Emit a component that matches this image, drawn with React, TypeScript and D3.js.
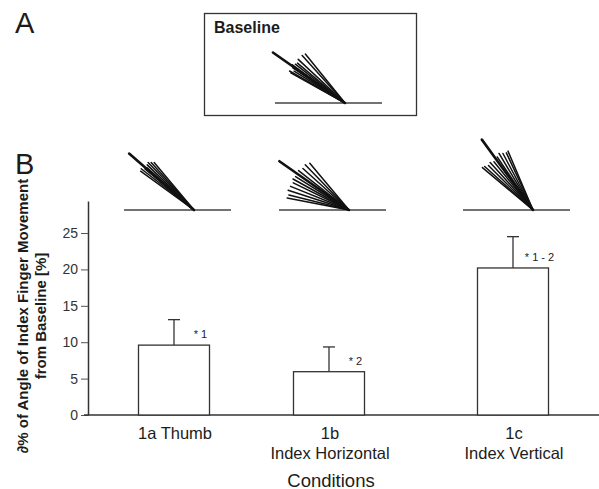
import React, { useEffect, useRef } from "react";
import * as d3 from "d3";

// Bar chart: angle change of index finger vs baseline, with finger sketches

const conditions = ["1a", "1b", "1c"];
const conditionLabels = [["1a Thumb"], ["1b", "Index Horizontal"], ["1c", "Index Vertical"]];
const means = [9.6, 5.95, 20.2];
const errors = [3.5, 3.4, 4.3];
const significance = ["* 1", "* 2", "* 1 - 2"];
const yTicks = [0, 5, 10, 15, 20, 25];

// finger sketches: angle above horizontal (deg) and length of each trace, first = thick one
const baselineAngles = [35, 29, 30, 32, 34, 36, 38, 40, 43, 48, 51];
const baselineLengths = [88, 62, 64, 60, 63, 65, 63, 62, 64, 64, 63];
const fanAngles = [
  [41, 36, 38, 40, 42, 44, 46, 48, 50],
  [35, 11, 14, 18, 22, 26, 29, 32, 38, 42, 46, 50],
  [54, 40, 42, 45, 48, 51, 56, 59, 62, 65, 67],
];
const fanLengths = [
  [86, 66, 67, 64, 63, 65, 66, 64, 62],
  [85, 63, 62, 64, 63, 62, 64, 63, 64, 62, 63, 61],
  [87, 66, 65, 63, 64, 62, 64, 66, 64, 63, 64],
];

const font = "'Liberation Sans', Arial, Helvetica, sans-serif";
const ink = "#1c1c1c";

function drawFan(g: any, px: number, py: number, angles: number[], lengths: number[]) {
  g.append("line")
    .attr("x1", px - 70).attr("x2", px + 37)
    .attr("y1", py).attr("y2", py)
    .attr("stroke", "#444").attr("stroke-width", 1.6);
  const traces = angles.map((a, i) => ({ a: (a * Math.PI) / 180, len: lengths[i], i }));
  g.selectAll(null)
    .data(traces)
    .join("line")
    .attr("x1", px).attr("y1", py)
    .attr("x2", (d: any) => px - d.len * Math.cos(d.a))
    .attr("y2", (d: any) => py - d.len * Math.sin(d.a))
    .attr("stroke", "#111")
    .attr("stroke-linecap", "round")
    .attr("stroke-width", (d: any) => (d.i === 0 ? 2.6 : 1.5));
}

export default function App() {
  const ref = useRef<SVGSVGElement>(null);

  useEffect(() => {
    const svg = d3.select(ref.current);
    svg.selectAll("*").remove();
    svg.style("font-family", font);

    const x = d3.scaleOrdinal<string, number>().domain(conditions).range([174, 329, 513]);
    const y = d3.scaleLinear().domain([0, 29.4]).range([415, 201]);
    const barW = 71;

    // panel letters
    svg.append("text").attr("x", 15).attr("y", 33).attr("font-size", 29).attr("fill", ink).text("A");
    svg.append("text").attr("x", 15).attr("y", 174).attr("font-size", 29).attr("fill", ink).text("B");

    // baseline box
    svg.append("rect")
      .attr("x", 204.5).attr("y", 13.5).attr("width", 212).attr("height", 102)
      .attr("fill", "none").attr("stroke", "#333").attr("stroke-width", 1.3);
    svg.append("text")
      .attr("x", 214).attr("y", 33)
      .attr("font-size", 16).attr("font-weight", "bold").attr("fill", ink)
      .text("Baseline");
    drawFan(svg.append("g"), 345, 103, baselineAngles, baselineLengths);

    // condition sketches above the bars
    conditions.forEach((c, i) => {
      drawFan(svg.append("g"), x(c) + 20, 210, fanAngles[i], fanLengths[i]);
    });

    // y axis
    const yAxis = svg.append("g")
      .attr("transform", "translate(88,0)")
      .call(d3.axisLeft(y).tickValues(yTicks).tickSize(7).tickSizeOuter(0).tickPadding(3));
    yAxis.select(".domain").attr("stroke", "#333").attr("stroke-width", 1.5);
    yAxis.selectAll(".tick line").attr("stroke", "#555").attr("stroke-width", 1);
    yAxis.selectAll(".tick text")
      .attr("font-size", 14).attr("font-family", font).attr("fill", "#333");

    // x axis line
    svg.append("line")
      .attr("x1", 84).attr("x2", 599)
      .attr("y1", y(0)).attr("y2", y(0))
      .attr("stroke", "#333").attr("stroke-width", 1.6);

    const bars = conditions.map((c, i) => ({ c, mean: means[i], err: errors[i], sig: significance[i] }));

    // bars
    svg.selectAll(".bar")
      .data(bars)
      .join("rect")
      .attr("class", "bar")
      .attr("x", (d) => x(d.c) - barW / 2)
      .attr("y", (d) => y(d.mean))
      .attr("width", barW)
      .attr("height", (d) => y(0) - y(d.mean))
      .attr("fill", "#fff")
      .attr("stroke", "#333")
      .attr("stroke-width", 1.3);

    // error bars (upper only)
    svg.selectAll(".err")
      .data(bars)
      .join("line")
      .attr("class", "err")
      .attr("x1", (d) => x(d.c)).attr("x2", (d) => x(d.c))
      .attr("y1", (d) => y(d.mean)).attr("y2", (d) => y(d.mean + d.err))
      .attr("stroke", "#333").attr("stroke-width", 1.3);
    svg.selectAll(".cap")
      .data(bars)
      .join("line")
      .attr("class", "cap")
      .attr("x1", (d) => x(d.c) - 6).attr("x2", (d) => x(d.c) + 6)
      .attr("y1", (d) => y(d.mean + d.err)).attr("y2", (d) => y(d.mean + d.err))
      .attr("stroke", "#333").attr("stroke-width", 1.3);

    // significance marks
    svg.selectAll(".sig")
      .data(bars)
      .join("text")
      .attr("class", "sig")
      .attr("x", (d) => x(d.c) + barW / 2 - 9)
      .attr("y", (d) => y(d.mean) - 7)
      .attr("text-anchor", "middle")
      .attr("font-size", 11)
      .attr("fill", ink)
      .text((d) => d.sig);

    // category labels
    conditions.forEach((c, i) => {
      conditionLabels[i].forEach((t, j) => {
        svg.append("text")
          .attr("x", x(c) + 1)
          .attr("y", 439 + j * 20)
          .attr("text-anchor", "middle")
          .attr("font-size", 16.5)
          .attr("fill", ink)
          .text(t);
      });
    });

    svg.append("text")
      .attr("x", 331).attr("y", 486.5)
      .attr("text-anchor", "middle")
      .attr("font-size", 18.5)
      .attr("fill", ink)
      .text("Conditions");

    // y axis title, two lines
    const yt = svg.append("g").attr("transform", "translate(0,316) rotate(-90)");
    yt.append("text")
      .attr("x", 0).attr("y", 28)
      .attr("text-anchor", "middle")
      .attr("font-size", 15).attr("font-weight", "bold").attr("fill", ink)
      .text("∂% of Angle of Index Finger Movement");
    yt.append("text")
      .attr("x", 0).attr("y", 46)
      .attr("text-anchor", "middle")
      .attr("font-size", 15).attr("font-weight", "bold").attr("fill", ink)
      .text("from Baseline [%]");
  }, []);

  return (
    <svg
      ref={ref}
      width={599}
      height={489}
      style={{ position: "absolute", left: 0, top: 0, background: "#fff" }}
    />
  );
}
